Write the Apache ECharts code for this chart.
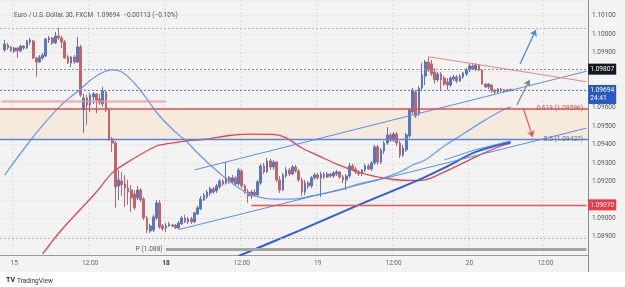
<!DOCTYPE html>
<html>
<head>
<meta charset="utf-8">
<script src="https://cdn.jsdelivr.net/npm/echarts@6/dist/echarts.min.js"></script>
<style>
  html, body { margin: 0; padding: 0; background: #fff; }
  #chart { width: 625px; height: 287px; }
</style>
</head>
<body>
<div id="chart"></div>
<script>
// EUR/USD 30 min, FXCM - 14 Dec 22:00 .. 20 Dec
// categories: one per 30 min bar, forex closed Fri 22:00 -> Sun 22:00
let categories = [];
let t = Date.UTC(2023, 11, 14, 22, 0);
while (categories.length < 186) {
  let d = new Date(t);
  let day = d.getUTCDay(), h = d.getUTCHours();
  let closed = (day == 5 && h >= 22) || day == 6 || (day == 0 && h < 22);
  if (!closed) {
    let hh = String(h).padStart(2, '0');
    let mm = String(d.getUTCMinutes()).padStart(2, '0');
    categories.push(d.getUTCDate() + ' ' + hh + ':' + mm);
  }
  t += 30 * 60000;
}

// [open, close, low, high], first bar = index 1
let ohlc = [
  [1.09914, 1.09946, 1.09903, 1.09968], [1.09941, 1.09924, 1.09914, 1.09952], [1.09930, 1.09908, 1.09903, 1.09935],
  [1.09908, 1.09924, 1.09897, 1.09930], [1.09924, 1.09908, 1.09870, 1.09930], [1.09908, 1.09935, 1.09903, 1.09941],
  [1.09935, 1.09924, 1.09914, 1.09941], [1.09924, 1.09962, 1.09919, 1.09968], [1.09957, 1.09968, 1.09941, 1.09979],
  [1.09962, 1.09870, 1.09865, 1.09968], [1.09870, 1.09848, 1.09767, 1.09875], [1.09848, 1.09875, 1.09843, 1.09886],
  [1.09870, 1.09886, 1.09859, 1.09897], [1.09881, 1.09973, 1.09875, 1.09979], [1.09968, 1.09979, 1.09952, 1.09990],
  [1.09979, 1.09952, 1.09941, 1.09984], [1.09952, 1.09990, 1.09946, 1.10011], [1.09990, 1.09979, 1.09968, 1.10035],
  [1.09979, 1.09957, 1.09924, 1.09990], [1.09957, 1.09870, 1.09865, 1.09968], [1.09875, 1.09843, 1.09838, 1.09886],
  [1.09843, 1.09875, 1.09821, 1.09881], [1.09875, 1.09848, 1.09838, 1.09886], [1.09848, 1.09930, 1.09843, 1.09984],
  [1.09930, 1.09669, 1.09658, 1.09941], [1.09588, 1.09653, 1.09463, 1.09675], [1.09653, 1.09615, 1.09506, 1.09669],
  [1.09615, 1.09669, 1.09577, 1.09680], [1.09658, 1.09675, 1.09620, 1.09685], [1.09675, 1.09642, 1.09571, 1.09680],
  [1.09647, 1.09626, 1.09615, 1.09675], [1.09620, 1.09691, 1.09604, 1.09713], [1.09685, 1.09588, 1.09577, 1.09696],
  [1.09588, 1.09430, 1.09419, 1.09599], [1.09430, 1.09408, 1.09360, 1.09441], [1.09408, 1.09170, 1.09056, 1.09419],
  [1.09175, 1.09208, 1.09099, 1.09262], [1.09202, 1.09181, 1.09121, 1.09251], [1.09186, 1.09164, 1.09061, 1.09235],
  [1.09164, 1.09142, 1.09072, 1.09208], [1.09153, 1.09110, 1.09034, 1.09181], [1.09131, 1.09056, 1.09045, 1.09153],
  [1.09110, 1.09153, 1.09099, 1.09175], [1.09153, 1.09099, 1.09088, 1.09164], [1.09104, 1.09001, 1.08990, 1.09115],
  [1.09001, 1.08936, 1.08920, 1.09012], [1.08931, 1.08958, 1.08920, 1.08969], [1.08936, 1.09007, 1.08925, 1.09018],
  [1.09001, 1.09083, 1.08990, 1.09099], [1.09083, 1.08952, 1.08942, 1.09099], [1.08958, 1.08942, 1.08931, 1.08969],
  [1.08947, 1.08958, 1.08925, 1.08974], [1.08969, 1.08958, 1.08952, 1.08980], [1.08958, 1.08963, 1.08952, 1.08969],
  [1.08963, 1.08947, 1.08942, 1.08969], [1.08947, 1.08974, 1.08942, 1.08985], [1.08969, 1.09001, 1.08963, 1.09012],
  [1.09001, 1.08980, 1.08974, 1.09018], [1.08980, 1.08996, 1.08969, 1.09007], [1.08996, 1.08980, 1.08969, 1.09007],
  [1.08980, 1.09029, 1.08974, 1.09034], [1.09023, 1.09056, 1.09018, 1.09067], [1.09050, 1.09104, 1.09045, 1.09121],
  [1.09099, 1.09126, 1.09094, 1.09137], [1.09115, 1.09142, 1.09104, 1.09153], [1.09137, 1.09159, 1.09121, 1.09170],
  [1.09159, 1.09142, 1.09131, 1.09170], [1.09148, 1.09175, 1.09137, 1.09186], [1.09170, 1.09202, 1.09159, 1.09213],
  [1.09202, 1.09186, 1.09175, 1.09213], [1.09191, 1.09219, 1.09181, 1.09305], [1.09219, 1.09197, 1.09186, 1.09229],
  [1.09197, 1.09219, 1.09186, 1.09235], [1.09219, 1.09186, 1.09175, 1.09229], [1.09186, 1.09262, 1.09175, 1.09273],
  [1.09256, 1.09175, 1.09164, 1.09267], [1.09175, 1.09142, 1.09131, 1.09186], [1.09142, 1.09121, 1.09083, 1.09159],
  [1.09121, 1.09142, 1.09104, 1.09153], [1.09142, 1.09126, 1.09115, 1.09159], [1.09126, 1.09197, 1.09115, 1.09208],
  [1.09191, 1.09284, 1.09181, 1.09295], [1.09284, 1.09251, 1.09240, 1.09300], [1.09251, 1.09311, 1.09246, 1.09327],
  [1.09311, 1.09278, 1.09262, 1.09322], [1.09278, 1.09305, 1.09262, 1.09316], [1.09305, 1.09208, 1.09197, 1.09311],
  [1.09208, 1.09153, 1.09137, 1.09229], [1.09153, 1.09235, 1.09148, 1.09246], [1.09229, 1.09262, 1.09219, 1.09278],
  [1.09262, 1.09240, 1.09229, 1.09273], [1.09240, 1.09278, 1.09235, 1.09289], [1.09278, 1.09256, 1.09246, 1.09289],
  [1.09256, 1.09208, 1.09197, 1.09267], [1.09208, 1.09142, 1.09121, 1.09219], [1.09142, 1.09191, 1.09126, 1.09208],
  [1.09191, 1.09175, 1.09159, 1.09202], [1.09175, 1.09219, 1.09164, 1.09229], [1.09219, 1.09235, 1.09208, 1.09246],
  [1.09235, 1.09219, 1.09208, 1.09246], [1.09219, 1.09240, 1.09115, 1.09251], [1.09240, 1.09224, 1.09213, 1.09251],
  [1.09224, 1.09240, 1.09219, 1.09251], [1.09240, 1.09229, 1.09219, 1.09246], [1.09229, 1.09246, 1.09219, 1.09256],
  [1.09240, 1.09251, 1.09229, 1.09262], [1.09251, 1.09224, 1.09213, 1.09256], [1.09224, 1.09208, 1.09191, 1.09235],
  [1.09208, 1.09229, 1.09153, 1.09240], [1.09229, 1.09284, 1.09219, 1.09300], [1.09284, 1.09267, 1.09256, 1.09295],
  [1.09267, 1.09251, 1.09240, 1.09278], [1.09251, 1.09240, 1.09229, 1.09262], [1.09240, 1.09262, 1.09229, 1.09267],
  [1.09262, 1.09284, 1.09251, 1.09295], [1.09284, 1.09267, 1.09262, 1.09295], [1.09267, 1.09300, 1.09256, 1.09311],
  [1.09300, 1.09387, 1.09289, 1.09398], [1.09387, 1.09305, 1.09289, 1.09398], [1.09305, 1.09371, 1.09295, 1.09381],
  [1.09365, 1.09408, 1.09349, 1.09419], [1.09408, 1.09452, 1.09398, 1.09495], [1.09452, 1.09425, 1.09414, 1.09463],
  [1.09425, 1.09457, 1.09414, 1.09468], [1.09457, 1.09408, 1.09392, 1.09468], [1.09408, 1.09343, 1.09327, 1.09419],
  [1.09343, 1.09381, 1.09333, 1.09398], [1.09371, 1.09452, 1.09360, 1.09463], [1.09447, 1.09588, 1.09436, 1.09599],
  [1.09577, 1.09696, 1.09566, 1.09707], [1.09685, 1.09555, 1.09544, 1.09696], [1.09566, 1.09707, 1.09555, 1.09718],
  [1.09707, 1.09778, 1.09696, 1.09843], [1.09772, 1.09848, 1.09723, 1.09859], [1.09848, 1.09805, 1.09794, 1.09875],
  [1.09838, 1.09783, 1.09772, 1.09859], [1.09794, 1.09751, 1.09729, 1.09816], [1.09751, 1.09783, 1.09740, 1.09794],
  [1.09783, 1.09751, 1.09696, 1.09794], [1.09761, 1.09729, 1.09718, 1.09772], [1.09740, 1.09723, 1.09696, 1.09761],
  [1.09723, 1.09761, 1.09713, 1.09772], [1.09756, 1.09767, 1.09745, 1.09778], [1.09767, 1.09745, 1.09734, 1.09778],
  [1.09745, 1.09772, 1.09740, 1.09783], [1.09767, 1.09789, 1.09756, 1.09794], [1.09783, 1.09805, 1.09772, 1.09816],
  [1.09805, 1.09827, 1.09794, 1.09838], [1.09827, 1.09810, 1.09805, 1.09843], [1.09810, 1.09832, 1.09799, 1.09843],
  [1.09832, 1.09805, 1.09799, 1.09838], [1.09805, 1.09729, 1.09723, 1.09810], [1.09729, 1.09713, 1.09707, 1.09734],
  [1.09713, 1.09729, 1.09702, 1.09734], [1.09723, 1.09696, 1.09680, 1.09729], [1.09696, 1.09685, 1.09675, 1.09702],
  [1.09685, 1.09702, 1.09680, 1.09707], [1.09702, 1.09691, 1.09685, 1.09707], [1.09696, 1.09691, 1.09680, 1.09702],
  [1.09691, 1.09696, 1.09685, 1.09702], [1.09699, 1.09694, 1.09688, 1.09705]
];

// moving averages, [bar index, price]
let blueMa = [
  [1, 1.09235], [10, 1.09441], [18, 1.09599], [25, 1.09702], [30, 1.09772], [35, 1.09805], [38, 1.09794],
  [42, 1.09734], [46, 1.09647], [50, 1.09555], [55, 1.09468], [58, 1.09425], [62, 1.09354], [66, 1.09289],
  [70, 1.09229], [75, 1.09164], [80, 1.09121], [86, 1.09104], [92, 1.09104], [98, 1.09121], [106, 1.09148],
  [113, 1.09186], [120, 1.09213], [126, 1.09251], [130, 1.09289], [134, 1.09316], [140, 1.09392],
  [146, 1.09457], [152, 1.09523], [158, 1.09582], [161, 1.09604]
];
let redMa = [
  [13, 1.08806], [18, 1.08917], [25, 1.09050], [30, 1.09142], [35, 1.09246], [41, 1.09316], [49, 1.09392],
  [52, 1.09403], [58, 1.09419], [65, 1.09430], [72, 1.09449], [79, 1.09457], [86, 1.09455], [90, 1.09436],
  [95, 1.09381], [101, 1.09333], [106, 1.09294], [112, 1.09256], [118, 1.09227], [124, 1.09210],
  [130, 1.09205], [134, 1.09208], [140, 1.09251], [146, 1.09300], [152, 1.09349], [158, 1.09392], [161, 1.09408]
];
let slowMa = [[75, 1.08795], [94, 1.08931], [113, 1.09072], [132, 1.09208], [140, 1.09273], [150, 1.09360], [161, 1.09414]];
let fastMa = [[140, 1.09316], [150, 1.09373], [161, 1.09419]];

// drawings
let channelTop = [[61, 1.09262], [185, 1.09798]];
let channelBottom = [[56, 1.08938], [185, 1.09489]];
let wedgeTop = [[135, 1.09877], [185, 1.09741]];
let arrowUp = [[164, 1.09838], [169, 1.10022]];
let arrowMid = [[163, 1.09615], [167, 1.09751]];
let arrowDown = [[165, 1.09599], [168, 1.09441]];

// levels
let fib618 = 1.09596, fib50 = 1.09427;
let prevClose = 1.09807, lastPrice = 1.09694, support = 1.09070, pivot = 1.08830;
let highLevel = 1.10033, lowLevel = 1.08892, oldLevel = 1.09637;
let hiddenTicks = ['1.09100', '1.09700', '1.09800'];

let upColor = '#5677c2', downColor = '#c1636a';
let font = 'Roboto';

function isTick(v) {
  let hm = v.split(' ')[1];
  return hm == '00:00' || hm == '12:00';
}

function seg(points, color, width, type) {
  return {
    type: 'line', data: points, showSymbol: false, silent: true, z: 3,
    lineStyle: { color: color, width: width, type: type || 'solid' }
  };
}

function arrow(points, color) {
  return [
    { coord: points[0], symbol: 'none', lineStyle: { color: color, width: 1.2, type: 'solid' } },
    { coord: points[1], symbol: 'arrow', lineStyle: { color: color, width: 1.2, type: 'solid' } }
  ];
}

function hline(value, color, width, type) {
  return { yAxis: value, lineStyle: { color: color, width: width, type: type } };
}

function hseg(from, to, value, color, width, opacity) {
  let ls = { color: color, width: width, type: 'solid', opacity: opacity || 1 };
  return [{ coord: [from, value], lineStyle: ls }, { coord: [to, value], lineStyle: ls }];
}

function priceTag(value, text, bg, offsetY) {
  return {
    coord: [185, value], symbolSize: 1, itemStyle: { color: 'transparent' },
    label: {
      show: true, position: 'right', distance: 1.5, formatter: text, color: '#fff',
      backgroundColor: bg, padding: [2, 2, 1, 2], fontSize: 6.6, lineHeight: 8,
      fontFamily: font, offset: [0, offsetY || 0]
    }
  };
}

function textTag(k, value, text, color) {
  return {
    coord: [k, value], symbolSize: 1, itemStyle: { color: 'transparent' },
    label: { show: true, position: 'left', distance: 3, formatter: text, color: color, fontSize: 6.6, fontFamily: font }
  };
}

let chart = echarts.init(document.getElementById('chart'));

chart.setOption({
  animation: false,
  backgroundColor: '#f3f3f3',
  title: {
    text: 'Euro / U.S. Dollar, 30, FXCM  1.09694  \u22120.00113 (\u22120.10%)',
    left: 9, top: 7,
    textStyle: { fontSize: 6.5, fontWeight: 'normal', color: '#555', fontFamily: font }
  },
  grid: { left: 0, right: 37, top: 0, bottom: 32 },
  xAxis: {
    type: 'category',
    data: categories,
    boundaryGap: true,
    axisLine: { lineStyle: { color: '#9a9a9a' } },
    axisTick: { show: false },
    axisLabel: {
      interval: (i, v) => isTick(v),
      margin: 5, fontSize: 6.5, color: '#666', fontFamily: font,
      formatter: v => {
        let parts = v.split(' ');
        if (parts[1] == '00:00') return parts[0] == '18' ? '{b|18}' : parts[0];
        return parts[1];
      },
      rich: { b: { fontWeight: 'bold', color: '#333', fontSize: 6.5, fontFamily: font } }
    },
    splitLine: { show: true, interval: (i, v) => isTick(v), lineStyle: { color: '#dcdcdc', type: [2, 2] } }
  },
  yAxis: {
    type: 'value',
    position: 'right',
    min: 1.088,
    max: 1.10185,
    interval: 0.001,
    axisLine: { show: true, lineStyle: { color: '#8a8a8a' } },
    axisTick: { show: false },
    axisLabel: {
      margin: 4, fontSize: 6.5, color: '#555', fontFamily: font,
      showMinLabel: false, showMaxLabel: false,
      formatter: v => {
        let s = v.toFixed(5);
        if (Math.abs(v * 1000 - Math.round(v * 1000)) > 1e-6) return '';
        return hiddenTicks.indexOf(s) > -1 ? '' : s;
      }
    },
    splitLine: { show: true, lineStyle: { color: '#e9e9e9' } }
  },
  graphic: [
    { type: 'rect', left: 0, top: 272, shape: { width: 625, height: 15 }, style: { fill: '#ffffff' }, silent: true },
    { type: 'line', shape: { x1: 588.5, y1: 255, x2: 588.5, y2: 272 }, style: { stroke: '#8a8a8a', lineWidth: 1 }, silent: true },
    { type: 'text', left: 6, top: 277, style: { text: 'TV', fontSize: 7, fontWeight: 'bold', fill: '#222', fontFamily: font } },
    { type: 'text', left: 17, top: 278, style: { text: 'TradingView', fontSize: 6.5, fill: '#333', fontFamily: font } }
  ],
  series: [
    {
      type: 'candlestick',
      data: ['-'].concat(ohlc),
      barWidth: 2.2,
      z: 2,
      itemStyle: {
        color: upColor, color0: downColor,
        borderColor: upColor, borderColor0: downColor, borderWidth: 1
      },
      markArea: {
        silent: true,
        itemStyle: { color: '#f5eadc' },
        data: [[{ yAxis: fib618 }, { yAxis: fib50 }]]
      },
      markLine: {
        silent: true, symbol: 'none', precision: 5, label: { show: false },
        data: [
          hline(highLevel, '#b4b4b4', 1, [2, 2]),
          hline(prevClose, '#8f8f8f', 1, [2, 2]),
          hline(lastPrice, '#5c80cc', 1, [2, 2]),
          hline(lowLevel, '#b4b4b4', 1, [2, 2]),
          hline(fib618, '#d65454', 1.6, 'solid'),
          hline(fib50, '#5b84d6', 1.3, 'solid'),
          hseg(0, 52, oldLevel, '#e49a9a', 2.5, 0.7),
          hseg(79, 185, support, '#f0525a', 1.4),
          hseg(52, 185, pivot, '#a3a3a3', 3)
        ]
      },
      markPoint: {
        silent: true,
        data: [
          priceTag(prevClose, '1.09807', '#131722'),
          priceTag(lastPrice, '1.09694\n24:41', '#2a58c0', 4.5),
          priceTag(support, '1.09070', '#f23645'),
          textTag(185, fib618, '0.618 (1.09596)', '#d65454'),
          textTag(185, fib50, '0.5 (1.09427)', '#5d6f92'),
          textTag(52, pivot, 'P (1.088)', '#555')
        ]
      }
    },
    Object.assign(seg(blueMa, '#6f9ce8', 1.3), { smooth: 0.4 }),
    Object.assign(seg(redMa, '#e8434b', 1.3), { smooth: 0.3 }),
    Object.assign(seg(slowMa, '#2b5fdc', 2), { smooth: 0.3 }),
    seg(fastMa, '#5b8ee6', 1),
    seg(channelTop, '#5b8ee6', 1),
    seg(channelBottom, '#5b8ee6', 1),
    Object.assign(seg(wedgeTop, '#ee8484', 1), {
      markLine: {
        silent: true, symbolSize: 6, precision: 5, label: { show: false },
        data: [
          arrow(arrowUp, '#3f86ee'),
          arrow(arrowMid, '#858585'),
          arrow(arrowDown, '#e25858')
        ]
      }
    })
  ]
});
</script>
</body>
</html>
